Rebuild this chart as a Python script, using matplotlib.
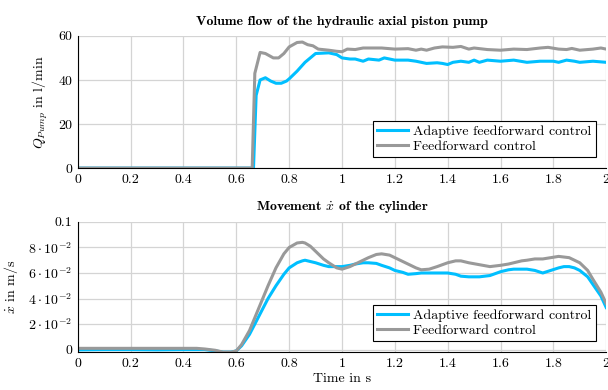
import matplotlib
matplotlib.use("Agg")
import matplotlib.pyplot as plt
from matplotlib.ticker import FuncFormatter

plt.rcParams['font.family'] = ['cmr10', 'DejaVu Serif']
plt.rcParams['mathtext.fontset'] = 'cm'
plt.rcParams['axes.unicode_minus'] = False
plt.rcParams['font.size'] = 10

# volume flow of the pump, l/min
t_q = [0.0, 0.5, 0.66, 0.665, 0.675, 0.69, 0.71, 0.73, 0.75, 0.77, 0.79, 0.8, 0.83, 0.86, 0.88, 0.9,
       0.95, 0.98, 1.0, 1.03, 1.05, 1.08, 1.1, 1.14, 1.16, 1.2, 1.25, 1.28, 1.32, 1.36, 1.38, 1.4,
       1.42, 1.45, 1.48, 1.5, 1.52, 1.55, 1.6, 1.65, 1.7, 1.75, 1.8, 1.82, 1.85, 1.88, 1.9, 1.95, 2.0]
q_adaptive = [0, 0, 0, 0, 33, 40, 41, 39.5, 38.5, 38.5, 39.5, 40.5, 44, 48, 50, 52,
              52.3, 51.5, 50, 49.5, 49.5, 48.5, 49.5, 49, 50, 49, 49, 48.5, 47.5, 47.8, 47.5, 47,
              48, 48.5, 48, 49, 48, 49, 48.5, 49, 48, 48.5, 48.5, 48, 49, 48.5, 48, 48.5, 48]

t_q2 = [0.0, 0.5, 0.66, 0.67, 0.69, 0.71, 0.74, 0.76, 0.78, 0.8, 0.83, 0.85, 0.87, 0.89, 0.91,
        0.95, 0.98, 1.0, 1.02, 1.05, 1.08, 1.15, 1.2, 1.25, 1.28, 1.3, 1.32, 1.35, 1.38, 1.42,
        1.45, 1.48, 1.5, 1.55, 1.6, 1.65, 1.7, 1.75, 1.78, 1.82, 1.85, 1.87, 1.9, 1.95, 1.98, 2.0]
q_feedforward = [0, 0, 0, 43, 52.5, 52, 50, 50, 52, 55, 57, 57.2, 56, 55.5, 54,
                 53.5, 53, 52.8, 54, 53.8, 54.5, 54.5, 54, 54.2, 53.5, 54, 53.5, 54.5, 55, 54.8,
                 55.2, 54, 54.5, 53.8, 53.5, 54, 53.8, 54.5, 54.8, 54, 53.8, 54.3, 53.5, 54, 54.5, 54]

# cylinder velocity, m/s
t_v = [0.0, 0.1, 0.2, 0.3, 0.4, 0.45, 0.48, 0.52, 0.55, 0.58, 0.6, 0.62, 0.65, 0.67, 0.7, 0.72, 0.75,
       0.78, 0.8, 0.83, 0.85, 0.86, 0.88, 0.9, 0.93, 0.95, 0.98, 1.0, 1.03, 1.05, 1.08, 1.1, 1.13,
       1.15, 1.18, 1.2, 1.23, 1.25, 1.28, 1.3, 1.33, 1.36, 1.4, 1.43, 1.45, 1.48, 1.52, 1.56, 1.6,
       1.63, 1.65, 1.68, 1.7, 1.73, 1.76, 1.79, 1.82, 1.84, 1.86, 1.88, 1.9, 1.93, 1.95, 1.98, 2.0]
v_adaptive = [-0.0002, 0.0, 0.0, -0.0002, 0.0, 0.0, 0.0, -0.001, -0.002, -0.002, -0.001, 0.003, 0.012,
              0.02, 0.032, 0.04, 0.05, 0.059, 0.064, 0.068, 0.0695, 0.07, 0.069, 0.068, 0.066, 0.065,
              0.065, 0.065, 0.066, 0.067, 0.068, 0.068, 0.0675, 0.066, 0.064, 0.062, 0.0605, 0.059,
              0.0595, 0.06, 0.06, 0.06, 0.06, 0.059, 0.0575, 0.057, 0.057, 0.058, 0.061, 0.0625, 0.063,
              0.063, 0.063, 0.062, 0.06, 0.062, 0.064, 0.065, 0.065, 0.064, 0.062, 0.057, 0.051, 0.042, 0.033]
v_feedforward = [0.001, 0.001, 0.001, 0.001, 0.001, 0.001, 0.0005, -0.0005, -0.002, -0.002, -0.001, 0.004,
                 0.015, 0.025, 0.04, 0.05, 0.064, 0.075, 0.08, 0.0835, 0.084, 0.0835, 0.081, 0.077,
                 0.071, 0.068, 0.064, 0.063, 0.065, 0.067, 0.07, 0.072, 0.0745, 0.075, 0.074, 0.072,
                 0.069, 0.067, 0.064, 0.0625, 0.063, 0.065, 0.068, 0.0695, 0.0695, 0.068, 0.0665,
                 0.065, 0.066, 0.067, 0.068, 0.0695, 0.07, 0.071, 0.071, 0.072, 0.073, 0.0725, 0.072,
                 0.07, 0.068, 0.062, 0.055, 0.045, 0.036]

x_ticks = [0, 0.2, 0.4, 0.6, 0.8, 1.0, 1.2, 1.4, 1.6, 1.8, 2.0]
q_ticks = [0, 20, 40, 60]
v_ticks = [0, 0.02, 0.04, 0.06, 0.08, 0.1]

blue = '#00bfff'
gray = '#999999'


def x_fmt(v, pos):
    return '%g' % v


def v_fmt(v, pos):
    if abs(v) < 1e-9:
        return '0'
    if abs(v - 0.1) < 1e-9:
        return '0.1'
    return r'$%d\cdot10^{-2}$' % round(v * 100)


def style(ax):
    ax.spines['top'].set_visible(False)
    ax.spines['right'].set_visible(False)
    ax.spines['left'].set_color('black')
    ax.spines['bottom'].set_color('black')
    ax.grid(True, color='#d4d4d4', linewidth=0.9)
    ax.set_axisbelow(True)
    ax.tick_params(length=0, pad=4, labelsize=10)
    ax.set_xlim(0, 2)
    ax.set_xticks(x_ticks)
    ax.xaxis.set_major_formatter(FuncFormatter(x_fmt))


fig = plt.figure(figsize=(6.08, 3.90), dpi=100)
ax1 = fig.add_axes([0.128, 0.569, 0.869, 0.339])
ax2 = fig.add_axes([0.128, 0.097, 0.869, 0.334])

style(ax1)
ax1.plot(t_q, q_adaptive, color=blue, lw=2.2, label='Adaptive feedforward control')
ax1.plot(t_q2, q_feedforward, color=gray, lw=2.2, label='Feedforward control')
ax1.set_ylim(0, 60)
ax1.set_yticks(q_ticks)
ax1.set_ylabel(r'$Q_{Pump}$ in l/min', labelpad=6)
ax1.set_title('Volume flow of the hydraulic axial piston pump', fontfamily='cmb10', fontsize=10, pad=8)
leg = ax1.legend(loc='lower right', bbox_to_anchor=(0.993, 0.03), fancybox=False, framealpha=1,
                 edgecolor='black', handlelength=2.2, borderpad=0.3, labelspacing=0.2,
                 handletextpad=0.4, fontsize=10)
leg.get_frame().set_linewidth(0.8)

style(ax2)
ax2.plot(t_v, v_adaptive, color=blue, lw=2.2, label='Adaptive feedforward control')
ax2.plot(t_v, v_feedforward, color=gray, lw=2.2, label='Feedforward control')
ax2.set_ylim(-0.002, 0.1)
ax2.set_yticks(v_ticks)
ax2.yaxis.set_major_formatter(FuncFormatter(v_fmt))
ax2.set_ylabel(r'$\dot{x}$ in m/s', labelpad=6)
ax2.set_xlabel('Time in s', labelpad=2)
ax2.set_title(r'Movement $\dot{x}$ of the cylinder', fontfamily='cmb10', fontsize=10, pad=8)
leg = ax2.legend(loc='lower right', bbox_to_anchor=(0.993, 0.03), fancybox=False, framealpha=1,
                 edgecolor='black', handlelength=2.2, borderpad=0.3, labelspacing=0.2,
                 handletextpad=0.4, fontsize=10)
leg.get_frame().set_linewidth(0.8)

fig.savefig('out.png', dpi=100)
